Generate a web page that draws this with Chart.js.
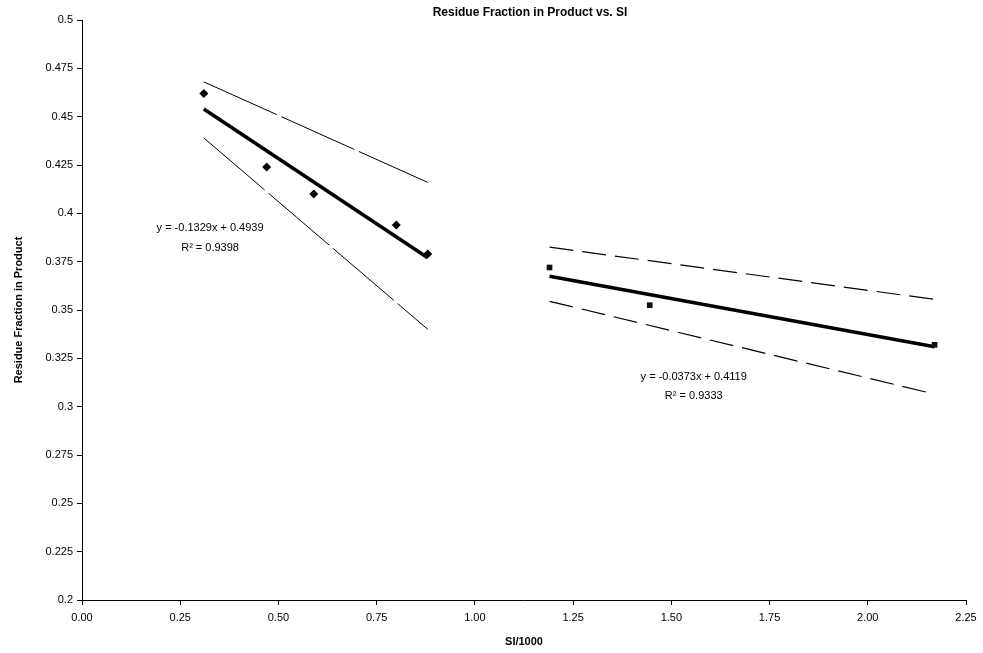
<!DOCTYPE html>
<html lang="en">
<head>
    <meta charset="UTF-8">
    <title>Residue Fraction in Product vs. SI</title>
    <style>
        body {
            margin: 0;
            padding: 0;
            background-color: #fff;
        }
        #chart {
            display: block;
        }
    </style>
</head>
<body>
    <canvas id="chart" width="983" height="653"></canvas>

    <script src="https://cdn.jsdelivr.net/npm/chart.js"></script>
    <script>
        // Measured points (SI/1000 vs residue fraction)
        const leftSI = [0.31, 0.47, 0.59, 0.80, 0.88];
        const leftResidue = [0.462, 0.424, 0.410, 0.394, 0.379];
        const rightSI = [1.19, 1.445, 2.17];
        const rightResidue = [0.372, 0.3525, 0.332];

        // Trend lines and confidence bands, endpoints
        const leftLineX = [0.31, 0.88];
        const leftFit = [0.454, 0.377];
        const leftUpper = [0.468, 0.416];
        const leftLower = [0.439, 0.340];
        const rightLineX = [1.19, 2.17];
        const rightFit = [0.3675, 0.331];
        const rightUpper = [0.3825, 0.3555];
        const rightLower = [0.3545, 0.3065];

        // Regression labels
        const leftLabel = ['y = -0.1329x + 0.4939', 'R\u00B2 = 0.9398'];
        const rightLabel = ['y = -0.0373x + 0.4119', 'R\u00B2 = 0.9333'];

        const font = 'Liberation Sans, Arial, sans-serif';
        const pts = (xs, ys) => xs.map((x, i) => ({ x: x, y: ys[i] }));

        const lineSet = (xs, ys, width, dash) => ({
            type: 'line',
            data: pts(xs, ys),
            borderColor: '#000',
            borderWidth: width,
            borderDash: dash,
            pointRadius: 0,
            fill: false
        });

        // Title and equation text
        const textPlugin = {
            id: 'textPlugin',
            afterDraw(chart) {
                const ctx = chart.ctx;
                const xs = chart.scales.x;
                const ys = chart.scales.y;
                ctx.save();
                ctx.fillStyle = '#000';
                ctx.textAlign = 'center';
                ctx.textBaseline = 'middle';
                ctx.font = 'bold 12px ' + font;
                ctx.fillText('Residue Fraction in Product vs. SI', 530, 13);

                ctx.font = '11px ' + font;
                ctx.fillText(leftLabel[0], xs.getPixelForValue(0.326), ys.getPixelForValue(0.3924));
                ctx.fillText(leftLabel[1], xs.getPixelForValue(0.326), ys.getPixelForValue(0.3822));
                ctx.fillText(rightLabel[0], xs.getPixelForValue(1.557), ys.getPixelForValue(0.3154));
                ctx.fillText(rightLabel[1], xs.getPixelForValue(1.557), ys.getPixelForValue(0.3055));
                ctx.restore();
            }
        };

        const ctx = document.getElementById('chart').getContext('2d');
        const chart = new Chart(ctx, {
            type: 'scatter',
            data: {
                datasets: [
                    {
                        data: pts(leftSI, leftResidue),
                        pointStyle: 'rectRot',
                        pointRadius: 4.5,
                        backgroundColor: '#000',
                        borderColor: '#000',
                        borderWidth: 0
                    },
                    {
                        data: pts(rightSI, rightResidue),
                        pointStyle: 'rect',
                        pointRadius: 4,
                        backgroundColor: '#111',
                        borderColor: '#111',
                        borderWidth: 0
                    },
                    lineSet(leftLineX, leftFit, 3.5, []),
                    lineSet(leftLineX, leftUpper, 1, [80, 5]),
                    lineSet(leftLineX, leftLower, 1, [80, 5]),
                    lineSet(rightLineX, rightFit, 3.5, []),
                    lineSet(rightLineX, rightUpper, 1.2, [24, 9]),
                    lineSet(rightLineX, rightLower, 1.2, [24, 9])
                ]
            },
            options: {
                responsive: false,
                animation: false,
                layout: {
                    padding: { left: 0, right: 17, top: 20, bottom: 0 }
                },
                plugins: {
                    legend: { display: false },
                    tooltip: { enabled: false }
                },
                scales: {
                    x: {
                        type: 'linear',
                        min: 0,
                        max: 2.25,
                        afterFit: (scale) => { scale.height = 53; },
                        border: { color: '#000', width: 1 },
                        grid: {
                            drawOnChartArea: false,
                            color: '#000',
                            tickLength: 5
                        },
                        ticks: {
                            stepSize: 0.25,
                            color: '#000',
                            padding: 6,
                            maxRotation: 0,
                            font: { family: font, size: 11 },
                            callback: (v) => v.toFixed(2)
                        },
                        title: {
                            display: true,
                            text: 'SI/1000',
                            color: '#000',
                            padding: { top: 0, bottom: 4 },
                            font: { family: font, size: 11, weight: 'bold' }
                        }
                    },
                    y: {
                        type: 'linear',
                        min: 0.2,
                        max: 0.5,
                        afterFit: (scale) => { scale.width = 82; },
                        border: { color: '#000', width: 1 },
                        grid: {
                            drawOnChartArea: false,
                            color: '#000',
                            tickLength: 5
                        },
                        ticks: {
                            stepSize: 0.025,
                            color: '#000',
                            padding: 4,
                            font: { family: font, size: 11 },
                            callback: (v) => String(+v.toFixed(3))
                        },
                        title: {
                            display: true,
                            text: 'Residue Fraction in Product',
                            color: '#000',
                            padding: { top: 12, bottom: 0 },
                            font: { family: font, size: 11, weight: 'bold' }
                        }
                    }
                }
            },
            plugins: [textPlugin]
        });
    </script>
</body>
</html>
